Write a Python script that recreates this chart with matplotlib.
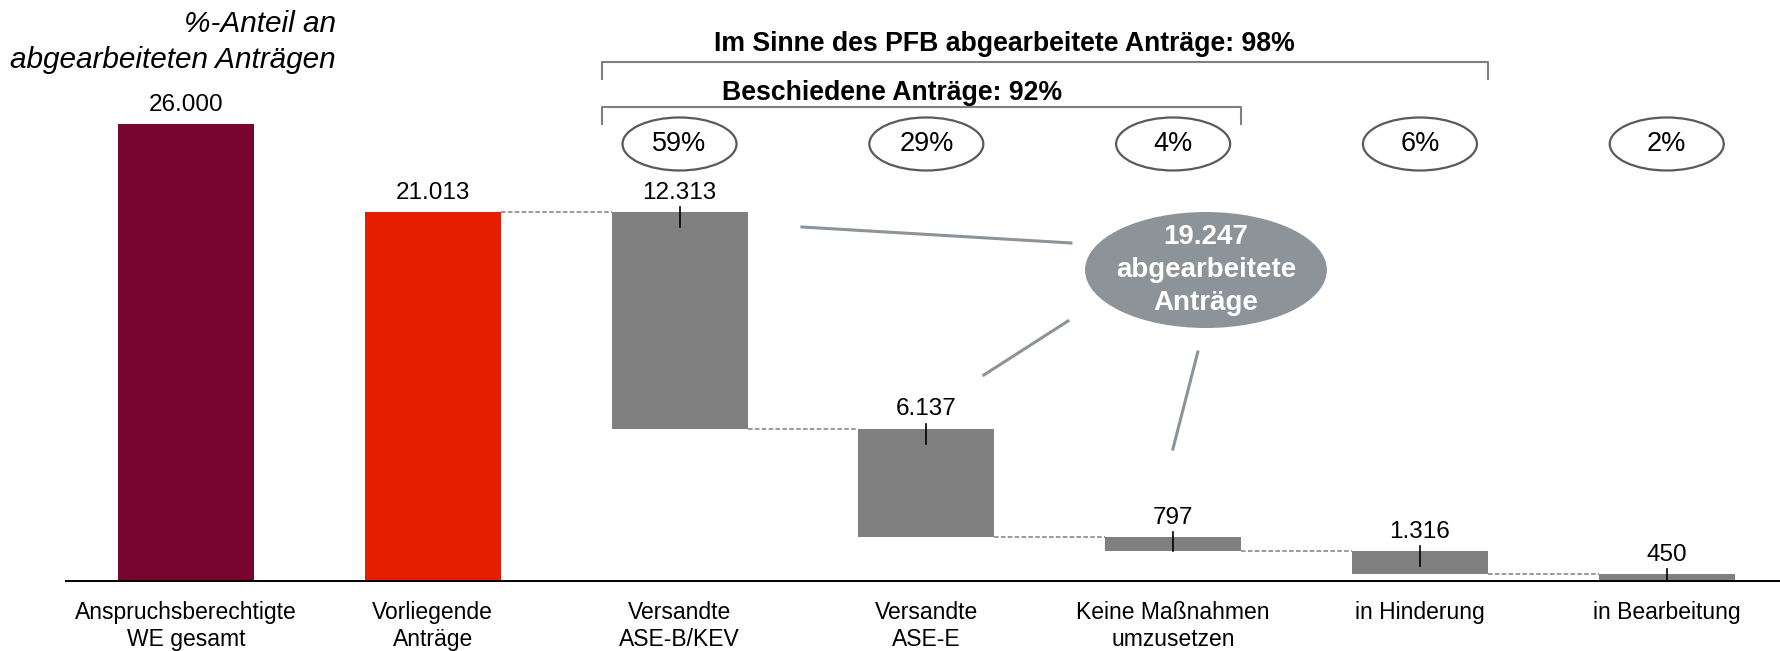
import numpy as np
import matplotlib.pyplot as plt
from matplotlib.patches import Ellipse

plt.rcParams['font.family'] = ['Liberation Sans', 'DejaVu Sans']

# chart data
categories = ["Anspruchsberechtigte\nWE gesamt", "Vorliegende\nAnträge",
              "Versandte\nASE-B/KEV", "Versandte\nASE-E",
              "Keine Maßnahmen\numzusetzen", "in Hinderung", "in Bearbeitung"]
totals = [26000, 21013]
steps = [12313, 6137, 797, 1316, 450]
shares = ["59%", "29%", "4%", "6%", "2%"]
processed_total = 19247
bracket_outer = "Im Sinne des PFB abgearbeitete Anträge: 98%"
bracket_inner = "Beschiedene Anträge: 92%"
share_title = "%-Anteil an\nabgearbeiteten Anträgen"

MAROON = "#780530"
RED = "#E61E00"
GREY = "#808080"
BLUEGREY = "#8C9399"


def de_num(v):
    return f"{v:,}".replace(",", ".")


def main():
    fig = plt.figure(figsize=(17.81, 6.51), dpi=100)
    ax = fig.add_axes([0.0365, 0.106, 0.9635, 0.894])
    ax.set_xlim(-0.49, 6.463)
    ax.set_ylim(0, 33039)
    for s in ax.spines.values():
        s.set_visible(False)
    ax.set_yticks([])

    w = 0.551
    px = 26000 / 458  # data units per pixel (vertical)
    x = np.arange(len(categories))

    # waterfall geometry from the values
    heights = totals + steps
    running = totals[-1] - np.cumsum([0] + steps)
    bottoms = [0, 0] + list(running[1:])
    tops = [b + h for b, h in zip(bottoms, heights)]
    colors = [MAROON, RED] + [GREY] * len(steps)

    ax.bar(x, heights, width=w, bottom=bottoms, color=colors, zorder=2)
    ax.axhline(0, color="black", lw=2.8, zorder=3)

    # dashed connectors
    for i in range(1, len(x) - 1):
        level = tops[i + 1]
        ax.plot([x[i] + w / 2, x[i + 1] - w / 2], [level, level],
                ls=(0, (3, 1.5)), color=GREY, lw=1.1, zorder=1)

    # value labels
    for xi, t, h in zip(x, tops, heights):
        ax.annotate(de_num(h), (xi, t), xytext=(0, 6), textcoords="offset points",
                    ha="center", va="bottom", fontsize=17.5)

    # small marker ticks in the step bars
    for xi, t, b in zip(x[2:], tops[2:], bottoms[2:]):
        ax.plot([xi, xi], [t + 5 * px, max(b, t - 15 * px)], color="black", lw=1.2, zorder=3)

    ax.set_xticks(x, categories, fontsize=16.5, linespacing=1.2)
    ax.tick_params(axis="x", length=0, pad=14)

    # share ellipses
    for xi, s in zip(x[2:], shares):
        ax.add_patch(Ellipse((xi, 24865), 0.462, 3009, facecolor="white",
                             edgecolor="#5a5a5a", lw=1.6, clip_on=False, zorder=3))
        ax.text(xi, 24865, s, ha="center", va="center", fontsize=19.5, zorder=4)

    # brackets
    left = x[2] - w / 2 - 0.04
    for right, ytop, label, lx, ly in [
            (x[5] + w / 2, 29491, bracket_outer, 3.318, 30540),
            (x[4] + w / 2, 26965, bracket_inner, 2.861, 27760)]:
        ax.plot([left, left, right, right], [ytop - 17 * px, ytop, ytop, ytop - 17 * px],
                color=GREY, lw=1.5, clip_on=False)
        ax.text(lx, ly, label, ha="center", va="center", fontsize=19.2,
                fontweight="bold")

    ax.text(0.608, 30650, share_title, ha="right", va="center", fontsize=21.4,
            style="italic", linespacing=1.35)

    # big summary ellipse with pointer lines
    ax.add_patch(Ellipse((4.133, 17711), 0.98, 6585, facecolor=BLUEGREY,
                         edgecolor="none", zorder=3))
    ax.text(4.133, 17711, f"{de_num(processed_total)}\nabgearbeitete\nAnträge",
            ha="center", va="center", color="white", fontsize=20,
            fontweight="bold", linespacing=1.35, zorder=4)
    for (x0, y0), (x1, y1) in [((2.496, 20153), (3.586, 19245)),
                               ((3.233, 11751), (3.574, 14817)),
                               ((4.100, 13057), (3.999, 7550))]:
        ax.plot([x0, x1], [y0, y1], color=BLUEGREY, lw=2.2, zorder=2)

    fig.savefig("out.png", dpi=100)


if __name__ == "__main__":
    main()
